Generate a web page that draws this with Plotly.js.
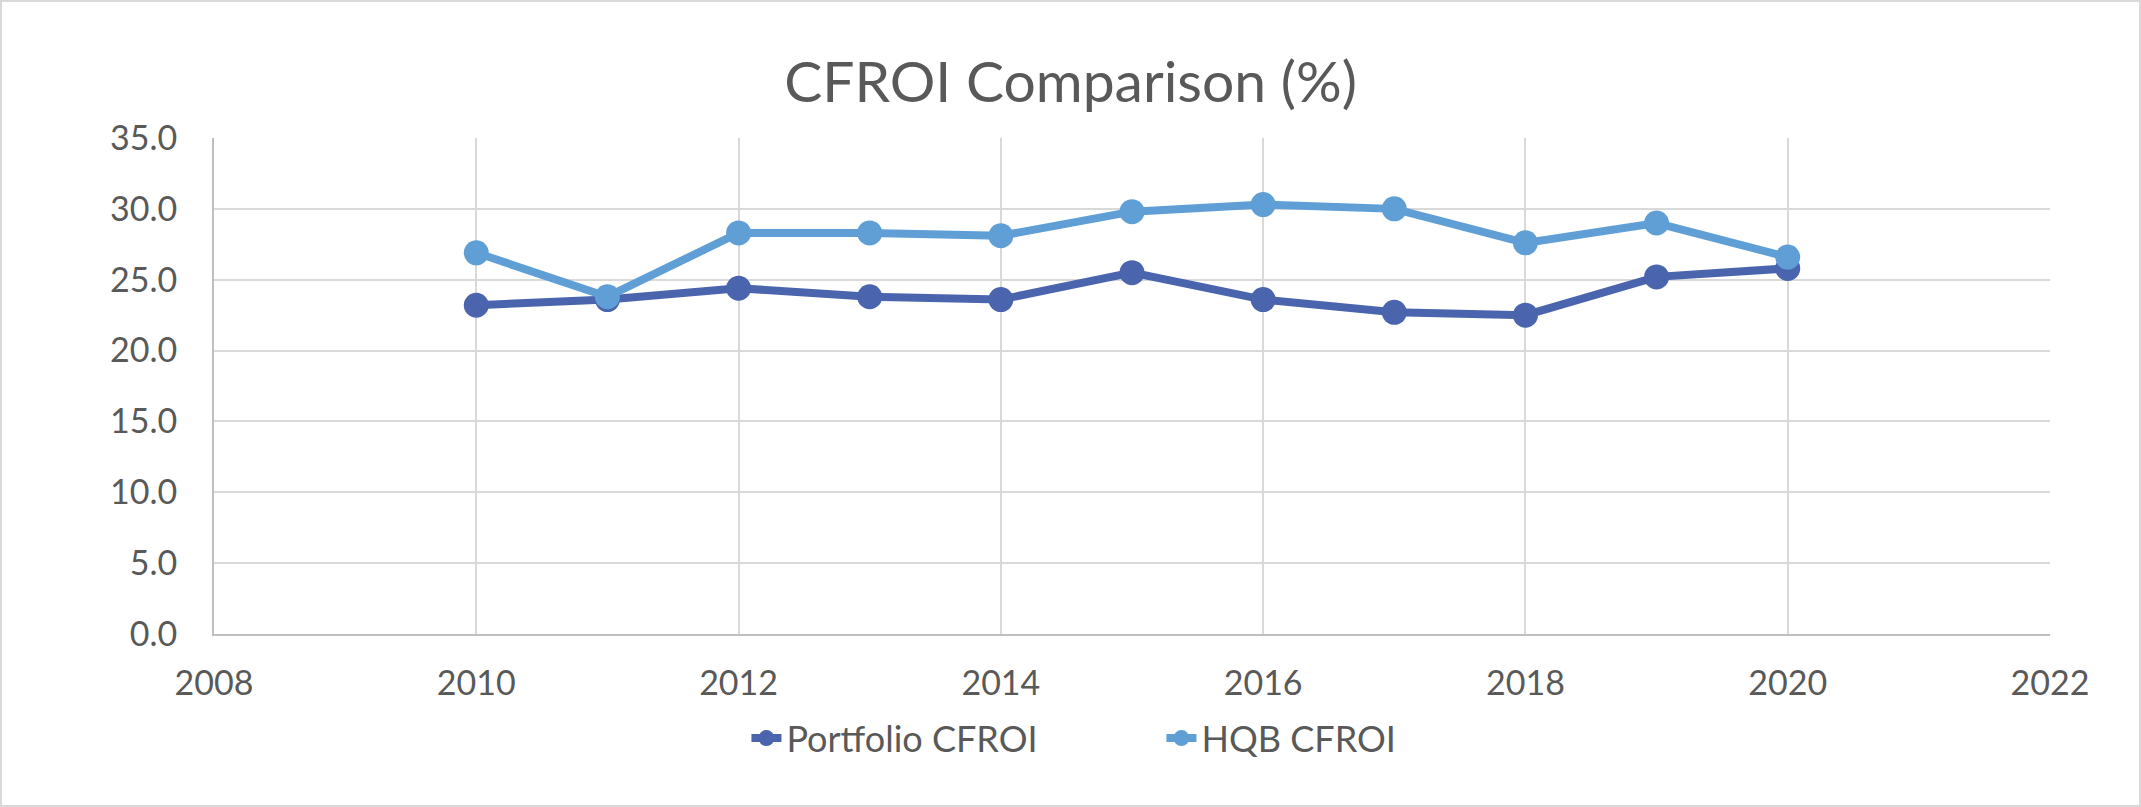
<!DOCTYPE html>
<html>
<head>
<meta charset="utf-8">
<script src="https://cdn.plot.ly/plotly-3.0.1.min.js"></script>
<style>
html,body{margin:0;padding:0;background:#fff;}
#chart{width:2141px;height:807px;box-sizing:border-box;border:2px solid #D9D9D9;}
</style>
</head>
<body>
<div id="chart"></div>
<script>
const years = [2010, 2011, 2012, 2013, 2014, 2015, 2016, 2017, 2018, 2019, 2020];
const portfolioCFROI = [23.2, 23.6, 24.4, 23.8, 23.6, 25.5, 23.6, 22.7, 22.5, 25.2, 25.8];
const hqbCFROI = [26.9, 23.8, 28.3, 28.3, 28.1, 29.8, 30.3, 30.0, 27.6, 29.0, 26.6];
const seriesNames = ['Portfolio CFROI', 'HQB CFROI'];
const xTicks = [2008, 2010, 2012, 2014, 2016, 2018, 2020, 2022];
const yTicks = [0, 5, 10, 15, 20, 25, 30, 35];

const font = 'Lato, "Open Sans", sans-serif';
const traces = [
  {x: years, y: portfolioCFROI, name: seriesNames[0], type: 'scatter', mode: 'lines+markers',
   line: {color: '#4A65AD', width: 8}, marker: {color: '#4A65AD', size: 25}},
  {x: years, y: hqbCFROI, name: seriesNames[1], type: 'scatter', mode: 'lines+markers',
   line: {color: '#609FD6', width: 8}, marker: {color: '#609FD6', size: 25}}
];
const layout = {
  width: 2137, height: 803,
  margin: {l: 212, r: 89, t: 136, b: 171},
  paper_bgcolor: '#fff', plot_bgcolor: '#fff',
  font: {family: font, color: '#595959', size: 34},
  title: {text: 'CFROI Comparison (%)', x: 0.5, xanchor: 'center', y: 0.9, yanchor: 'middle',
          font: {family: font, size: 57, color: '#595959'}},
  xaxis: {range: [2008, 2022], tickvals: xTicks, ticktext: xTicks.map(String),
          showgrid: true, gridcolor: '#D9D9D9', gridwidth: 2, zeroline: false,
          showline: true, linecolor: '#BFBFBF', linewidth: 2, ticks: '', ticklen: 0,
          ticklabelstandoff: 18,
          tickfont: {size: 34, color: '#595959', family: font}},
  yaxis: {range: [0, 35], tickvals: yTicks, ticktext: yTicks.map(v => v.toFixed(1)),
          showgrid: true, gridcolor: '#D9D9D9', gridwidth: 2, zeroline: false,
          showline: true, linecolor: '#BFBFBF', linewidth: 2, ticks: '', ticklen: 0,
          ticklabelstandoff: 28,
          tickfont: {size: 34, color: '#595959', family: font}},
  showlegend: true,
  legend: {orientation: 'h', x: 0.29, xanchor: 'left', y: -0.21, yanchor: 'middle',
           entrywidth: 370, entrywidthmode: 'pixels',
           font: {size: 36, color: '#595959', family: font}}
};
Plotly.newPlot('chart', traces, layout, {displayModeBar: false, staticPlot: true});
</script>
</body>
</html>
